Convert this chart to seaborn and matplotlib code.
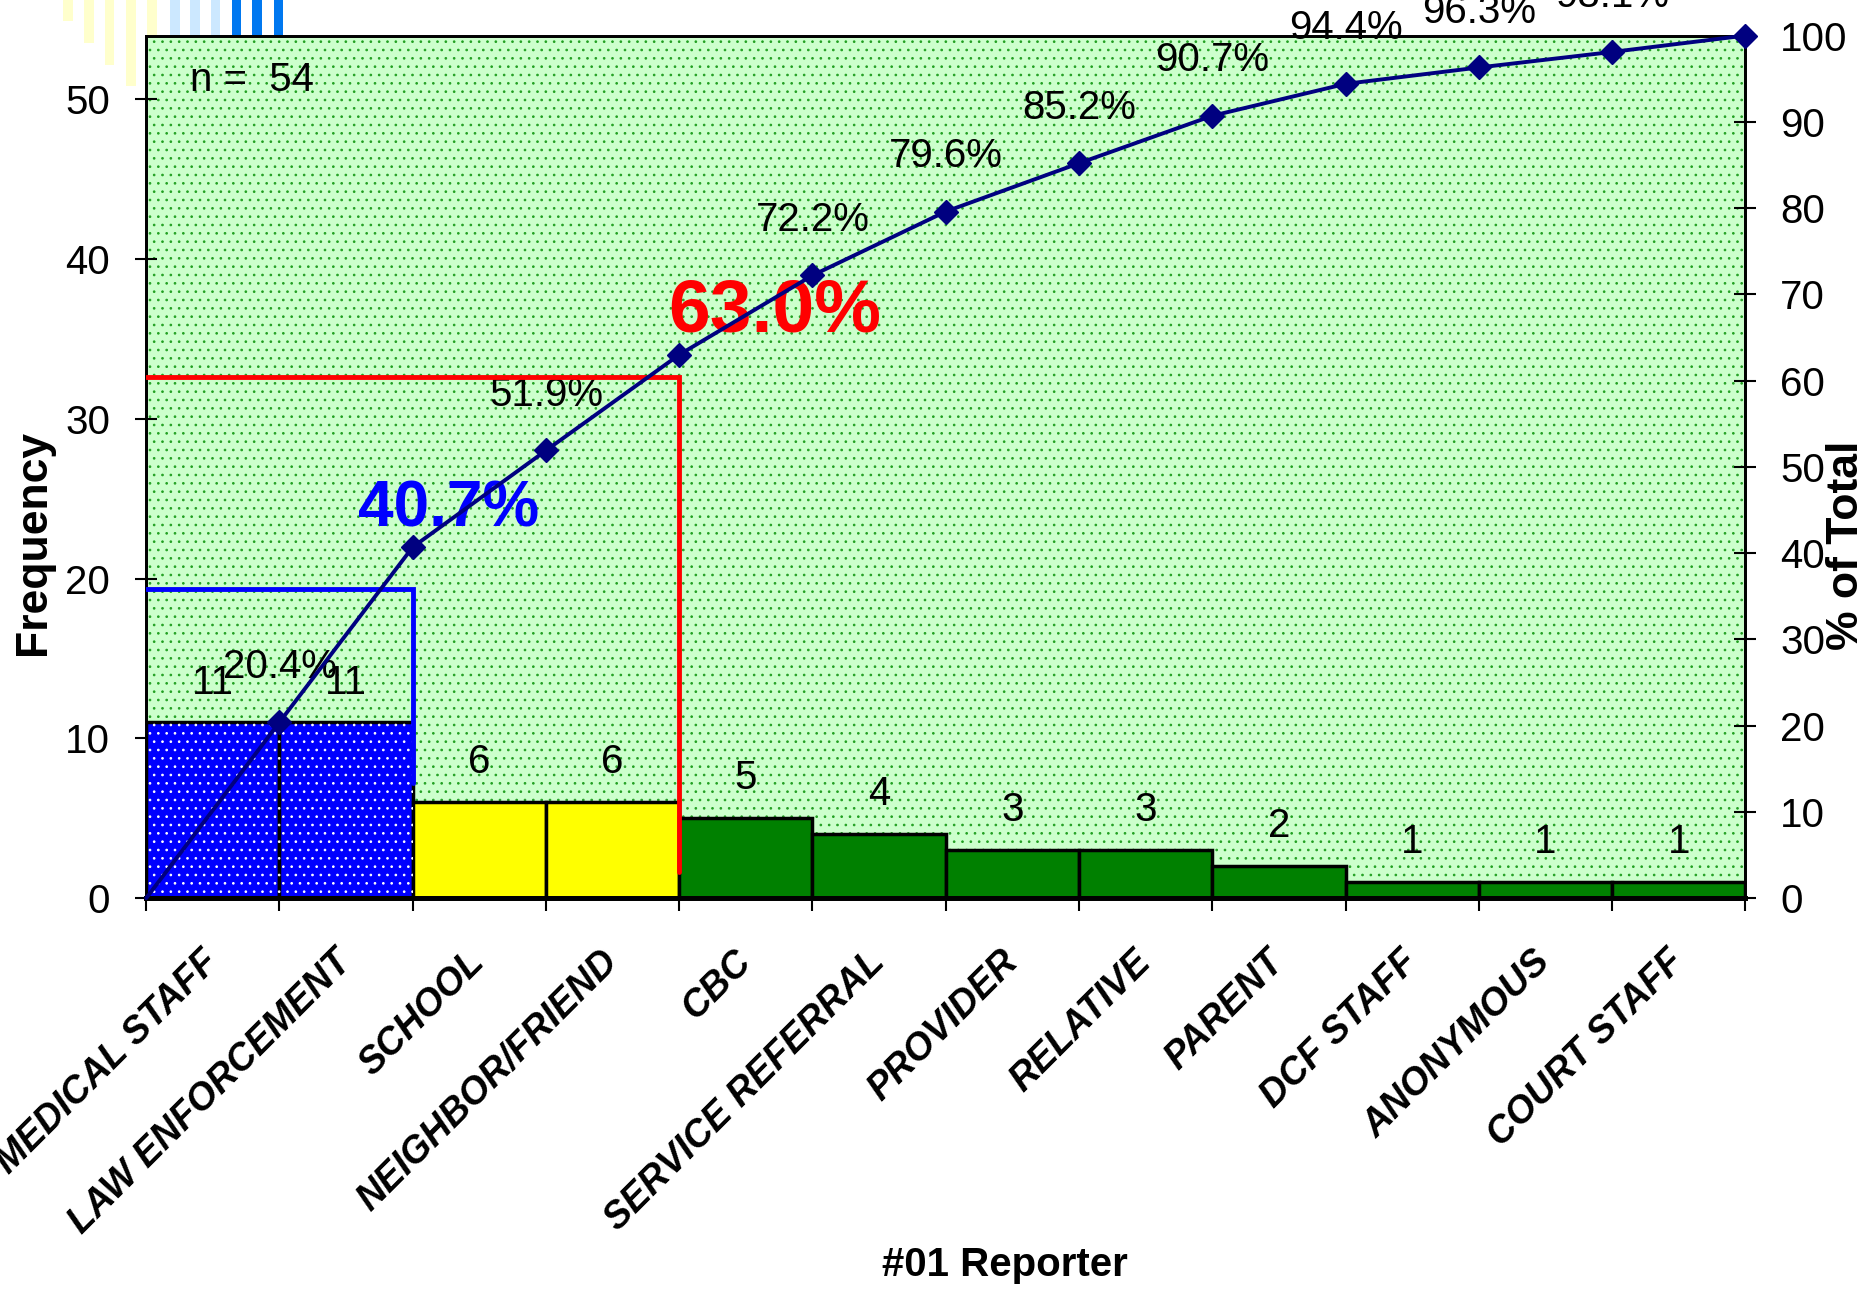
import numpy as np
import matplotlib
matplotlib.use('Agg')
import matplotlib.pyplot as plt
from matplotlib.patches import Rectangle
import seaborn as sns

# data
reporters = ['MEDICAL STAFF', 'LAW ENFORCEMENT', 'SCHOOL', 'NEIGHBOR/FRIEND', 'CBC',
             'SERVICE REFERRAL', 'PROVIDER', 'RELATIVE', 'PARENT', 'DCF STAFF',
             'ANONYMOUS', 'COURT STAFF']
counts = [11, 11, 6, 6, 5, 4, 3, 3, 2, 1, 1, 1]
cum_pct = [20.4, 40.7, 51.9, 63.0, 72.2, 79.6, 85.2, 90.7, 94.4, 96.3, 98.1, 100.0]
bar_colors = ['#0000FF'] * 2 + ['#FFFF00'] * 2 + ['#008000'] * 8
n_total = 54
freq_ticks = [0, 10, 20, 30, 40, 50]
pct_ticks = list(range(0, 101, 10))

# cut-off guides: (categories included, level %, end %, colour)
cutoffs = [(2, 35.8, 13.4, '#0000FF'), (4, 60.4, 3.0, '#FF0000')]

# big labels on the cumulative line
special = {
    1: dict(color='#0000FF', fontsize=46, fontweight='bold', xytext=(26, 27)),
    3: dict(color='#FF0000', fontsize=54, fontweight='bold', xytext=(69, 31)),
}

sns.set_style('ticks', rc={'axes.edgecolor': 'black', 'text.color': 'black',
                           'xtick.color': 'black', 'ytick.color': 'black',
                           'axes.labelcolor': 'black'})
plt.rcParams['font.family'] = ['Liberation Sans', 'DejaVu Sans']
plt.rcParams['hatch.linewidth'] = 0.7

fig = plt.figure(figsize=(18.65, 12.89), dpi=100)

# slide decoration at the top left
W, H = 1568.0, 1085.0
stripes = [(53, 18, '#FFFFCC'), (71, 36, '#FFFFCC'), (88, 55, '#FFFFCC'),
           (106, 72, '#FFFFCC'), (124, 30, '#FFFFCC'),
           (143, 30, '#CCE8FF'), (160, 30, '#CCE8FF'), (177, 30, '#CCE8FF'),
           (195, 30, '#0078F0'), (212, 30, '#0078F0'), (230, 30, '#0078F0')]
for sx, sh, sc in stripes:
    fig.add_artist(Rectangle((sx / W, 1 - sh / H), 8 / W, sh / H,
                             transform=fig.transFigure, color=sc, lw=0, zorder=0))

ax = fig.add_axes([0.0784, 0.3032, 0.8574, 0.6692])
ax.add_patch(Rectangle((0, 0), 1, 1, transform=ax.transAxes, facecolor='#CCFFCC',
                       edgecolor='#22A022', lw=0, hatch='..', zorder=0))

sns.barplot(x=reporters, y=counts, hue=reporters, palette=bar_colors, legend=False,
            width=1.0, saturation=1, edgecolor='black', linewidth=2.5, ax=ax, zorder=2)

# white dots on the blue bars
for bar in list(ax.patches):
    if np.allclose(bar.get_facecolor()[:3], (0, 0, 1)):
        ax.add_patch(Rectangle((bar.get_x(), bar.get_y()), bar.get_width(), bar.get_height(),
                               fill=False, hatch='..', edgecolor='white', lw=0, zorder=2.5))

for container in ax.containers:
    ax.bar_label(container, padding=15, fontsize=29)

n = len(reporters)
edges = np.arange(n + 1) - 0.5

ax.set_ylim(0, n_total)
ax.set_yticks(freq_ticks)
ax.tick_params(axis='y', direction='inout', length=16, width=1.5, labelsize=29, pad=18)
ax.set_xticks(range(n))
ax.set_xticklabels(reporters, rotation=45, ha='right', va='center', rotation_mode='anchor',
                   fontsize=27, fontweight='bold', fontstyle='italic')
ax.tick_params(axis='x', which='major', length=0, pad=42)
ax.set_xticks(edges, minor=True)
ax.tick_params(axis='x', which='minor', direction='out', length=9, width=1.5)
ax.set_xlabel('')
ax.set_ylabel('')

ax.text(0.0275, 0.948, 'n =  54', transform=ax.transAxes, fontsize=29, va='center', ha='left')

# cumulative percentage on the right axis
ax2 = ax.twinx()
sns.lineplot(x=edges, y=[0] + cum_pct, ax=ax2, color='#000080', linewidth=2.8,
             marker='D', markersize=12, markeredgecolor='#000080', markeredgewidth=1,
             markevery=list(range(1, n + 1)), clip_on=False, zorder=5)

for k, level, end, col in cutoffs:
    xc = edges[k]
    ax2.plot([edges[0], xc, xc], [level, level, end], color=col, lw=3.5, zorder=4,
             solid_joinstyle='miter')

for i, (xe, v) in enumerate(zip(edges[1:], cum_pct)):
    if v >= 100:
        continue
    st = dict(color='black', fontsize=29, fontweight='normal', xytext=(0, 40))
    st.update(special.get(i, {}))
    ax2.annotate(f'{v:.1f}%', xy=(xe, v), textcoords='offset points', ha='center',
                 va='center', annotation_clip=False, **st)

ax2.set_ylim(0, 100)
ax2.set_yticks(pct_ticks)
ax2.tick_params(axis='y', direction='inout', length=16, width=1.5, labelsize=29, pad=17)
ax2.set_xlabel('')
ax2.set_ylabel('')
ax.set_xlim(edges[0], edges[-1])

for a in (ax, ax2):
    for s in a.spines.values():
        s.set_linewidth(2)
        s.set_color('black')
    a.spines['bottom'].set_linewidth(3.5)

fig.text(0.0179, 0.579, 'Frequency', rotation=90, ha='center', va='center',
         fontsize=32, fontweight='bold')
fig.text(0.990, 0.577, '% of Total', rotation=90, ha='center', va='center',
         fontsize=32, fontweight='bold')
fig.text(0.539, 0.0184, '#01 Reporter', ha='center', va='center',
         fontsize=29, fontweight='bold')

fig.savefig('out.png', dpi=100)
